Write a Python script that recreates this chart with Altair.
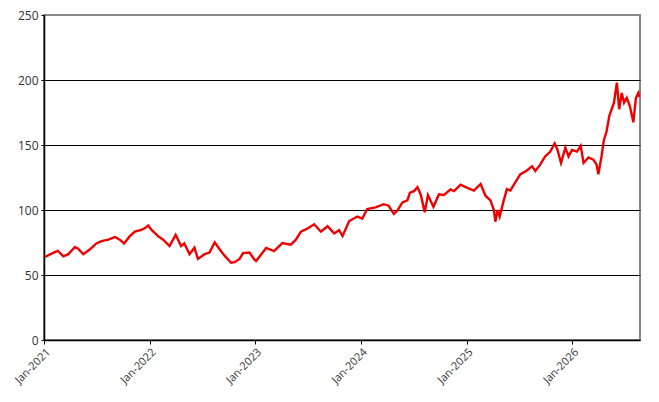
import altair as alt
import pandas as pd

dates = [
    "2021-01-04", "2021-01-17", "2021-02-09", "2021-02-18", "2021-03-09", "2021-03-26",
    "2021-04-18", "2021-04-29", "2021-05-17", "2021-06-09", "2021-07-01", "2021-07-19",
    "2021-08-11", "2021-09-03", "2021-09-20", "2021-10-05", "2021-10-24", "2021-11-11",
    "2021-12-03", "2021-12-15", "2021-12-27",
    "2022-01-08", "2022-01-31", "2022-02-17", "2022-03-11", "2022-04-01", "2022-04-20",
    "2022-05-01", "2022-05-19", "2022-06-05", "2022-06-17", "2022-07-10", "2022-07-27",
    "2022-08-14", "2022-08-31", "2022-09-17", "2022-10-10", "2022-10-22", "2022-11-08",
    "2022-11-20", "2022-12-12", "2022-12-29",
    "2023-01-04", "2023-02-08", "2023-03-07", "2023-04-05", "2023-05-04", "2023-05-21",
    "2023-06-08", "2023-07-01", "2023-07-24", "2023-08-16", "2023-09-08", "2023-10-01",
    "2023-10-18", "2023-10-30", "2023-11-22", "2023-12-20",
    "2024-01-06", "2024-01-23", "2024-02-21", "2024-03-20", "2024-04-06", "2024-04-24",
    "2024-05-06", "2024-05-24", "2024-06-10", "2024-06-19", "2024-07-03", "2024-07-15",
    "2024-07-26", "2024-08-09", "2024-08-20", "2024-09-08", "2024-09-27", "2024-10-14",
    "2024-11-06", "2024-11-18", "2024-12-11",
    "2025-01-03", "2025-01-26", "2025-02-18", "2025-03-07", "2025-03-24", "2025-04-05",
    "2025-04-10", "2025-04-18", "2025-04-25", "2025-05-09", "2025-05-20", "2025-06-01",
    "2025-06-18", "2025-07-05", "2025-07-28", "2025-08-15", "2025-08-26", "2025-09-12",
    "2025-09-29", "2025-10-17", "2025-11-01", "2025-11-11", "2025-11-23", "2025-12-08",
    "2025-12-19", "2025-12-31",
    "2026-01-17", "2026-01-30", "2026-02-09", "2026-02-26", "2026-03-15", "2026-03-26",
    "2026-04-01", "2026-04-12", "2026-04-20", "2026-04-29", "2026-05-09", "2026-05-17",
    "2026-05-25", "2026-06-04", "2026-06-12", "2026-06-21", "2026-06-29", "2026-07-08",
    "2026-07-19", "2026-07-31", "2026-08-09", "2026-08-17", "2026-08-21",
]

values = [
    64.0, 65.3, 67.8, 68.6, 64.4, 66.0,
    71.5, 70.3, 66.0, 69.8, 74.3, 76.0,
    77.2, 79.2, 77.2, 74.3, 79.7, 83.4,
    84.7, 85.9, 88.1,
    84.7, 79.7, 77.2, 72.3, 80.9, 72.3,
    74.3, 66.0, 71.0, 62.4, 66.0, 67.3,
    75.2, 69.8, 64.9, 59.4, 59.9, 62.4,
    66.8, 67.3, 61.9,
    60.8, 70.8, 68.3, 74.5, 73.3, 77.0,
    83.3, 85.8, 89.0, 83.3, 87.5, 82.0,
    84.5, 80.0, 91.5, 95.0,
    93.3, 100.8, 102.0, 104.5, 103.3, 97.0,
    99.5, 105.8, 107.5, 113.3, 114.5, 117.5,
    112.0, 98.3, 111.5, 102.5, 112.0, 111.5,
    115.8, 114.5, 119.5,
    117.0, 115.0, 120.0, 111.0, 107.4, 100.0,
    91.0, 100.0, 95.0, 107.4, 116.1, 115.0,
    121.2, 127.4, 130.4, 133.7, 130.0, 134.9,
    141.2, 144.9, 151.2, 146.2, 136.2, 148.0,
    141.2, 146.2,
    144.9, 149.4, 136.2, 140.4, 138.7, 134.9,
    127.4, 141.2, 153.7, 160.0, 172.5, 177.5,
    182.5, 198.0, 177.5, 190.0, 182.5, 186.2,
    180.0, 167.5, 186.2, 190.0, 187.0,
]

y_ticks = [0, 50, 100, 150, 200, 250]
x_tick_years = [2021, 2022, 2023, 2024, 2025, 2026]

df = pd.DataFrame({"date": dates, "value": values})

font = "Open Sans"

chart = alt.Chart(df).mark_line(color="#ee0000", strokeWidth=2.4).encode(
    x=alt.X(
        "date:T",
        scale=alt.Scale(domain=[alt.DateTime(year=2021, month=1, date=1),
                                alt.DateTime(year=2026, month=8, date=23)]),
        axis=alt.Axis(
            title=None,
            values=[alt.DateTime(year=yv, month=1, date=1) for yv in x_tick_years],
            format="%b-%Y",
            labelAngle=-45,
            labelAlign="right",
            labelBaseline="top",
            labelFont=font,
            labelFontSize=11,
            labelColor="#333333",
            domainColor="black",
            domainWidth=1.5,
            tickColor="black",
            tickSize=4,
            grid=False,
            labelPadding=2,
        ),
    ),
    y=alt.Y(
        "value:Q",
        scale=alt.Scale(domain=[0, 250], nice=False),
        axis=alt.Axis(
            title=None,
            values=y_ticks,
            labelFont=font,
            labelFontSize=12,
            labelColor="#333333",
            domainColor="black",
            domainWidth=1.5,
            tickColor="black",
            tickSize=3,
            labelPadding=3,
            grid=True,
            gridColor={"condition": {"test": "datum.value >= 250", "value": "#888888"}, "value": "black"},
            gridWidth=1.2,
        ),
    ),
).properties(
    width=596,
    height=325,
    autosize=alt.AutoSizeParams(type="none"),
    padding={"left": 36, "top": 7, "right": 5, "bottom": 56},
).configure_view(
    stroke="#888888",
    strokeWidth=2,
)

chart.save("out.html", embed_options={"renderer": "svg", "actions": False})
